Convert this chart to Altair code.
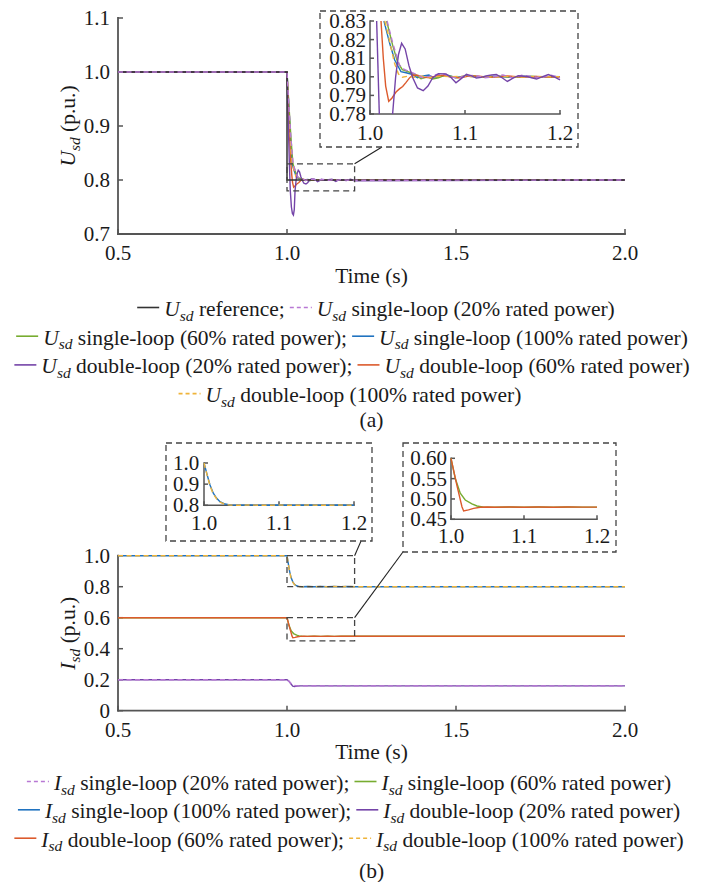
import altair as alt
import pandas as pd

# ---------------- panel (a): U_sd ----------------
A_REF_T = [0.5, 1.0, 1.0, 2.0]
A_REF_V = [1.0, 1.0, 0.8, 0.8]

A_S20_T = [0.5, 1.0, 1.006, 1.012, 1.018, 1.024, 1.0309, 1.036, 1.0414, 1.048, 1.055, 1.062, 1.07, 1.078,
           1.085, 1.092, 1.1, 1.11, 1.12, 1.13, 1.14, 1.15, 1.16, 1.17, 1.18, 1.19, 1.2, 2.0]
A_S20_V = [1.0, 1.0, 0.935, 0.874, 0.83, 0.818, 0.8064, 0.804, 0.8029, 0.8015, 0.7995, 0.8002, 0.8012, 0.8015,
           0.8, 0.7993, 0.8005, 0.8008, 0.7995, 0.8, 0.801, 0.7995, 0.8008, 0.8002, 0.7995, 0.801, 0.7995, 0.8]

A_S60_T = [0.5, 1.0, 1.006, 1.012, 1.0175, 1.0238, 1.029, 1.034, 1.0414, 1.0484, 1.0537, 1.061, 1.066, 1.072,
           1.078, 1.085, 1.092, 1.1, 1.11, 1.12, 1.13, 1.14, 1.15, 1.16, 1.17, 1.18, 1.19, 1.2, 2.0]
A_S60_V = [1.0, 1.0, 0.935, 0.875, 0.83, 0.817, 0.808, 0.8038, 0.8025, 0.801, 0.799, 0.8, 0.7988, 0.7995,
           0.8006, 0.8003, 0.7995, 0.8003, 0.8005, 0.7997, 0.8, 0.8003, 0.7998, 0.8, 0.8003, 0.7999, 0.8001, 0.8, 0.8]

A_S100_T = [0.5, 1.0, 1.006, 1.011, 1.0147, 1.0207, 1.026, 1.0326, 1.038, 1.043, 1.05, 1.056, 1.062, 1.068,
            1.075, 1.082, 1.09, 1.1, 1.11, 1.12, 1.13, 1.14, 1.15, 1.16, 1.17, 1.18, 1.19, 1.2, 2.0]
A_S100_V = [1.0, 1.0, 0.93, 0.87, 0.83, 0.818, 0.809, 0.8028, 0.8022, 0.8015, 0.7995, 0.8005, 0.801, 0.7992,
            0.8005, 0.8008, 0.7995, 0.8005, 0.8, 0.7998, 0.8003, 0.8, 0.7997, 0.8003, 0.8, 0.7998, 0.8002, 0.8, 0.8]

A_D20_T = [0.5, 1.0, 1.004, 1.007, 1.0098, 1.013, 1.016, 1.019, 1.0215, 1.0238, 1.027, 1.03, 1.0333, 1.037,
           1.041, 1.045, 1.05, 1.056, 1.061, 1.066, 1.072, 1.08, 1.0855, 1.0905, 1.096, 1.1015, 1.107, 1.112,
           1.117, 1.122, 1.128, 1.133, 1.139, 1.1446, 1.15, 1.156, 1.165, 1.17, 1.1754, 1.181, 1.1877, 1.194,
           1.2, 2.0]
A_D20_V = [1.0, 1.0, 0.9, 0.83, 0.78, 0.75, 0.738, 0.735, 0.745, 0.78, 0.8, 0.812, 0.818, 0.815,
           0.806, 0.7995, 0.794, 0.7925, 0.795, 0.7995, 0.8017, 0.8015, 0.7995, 0.7968, 0.799, 0.8013, 0.8005, 0.7993,
           0.7997, 0.8005, 0.801, 0.8013, 0.7995, 0.7975, 0.7992, 0.8006, 0.8002, 0.7995, 0.7988, 0.8, 0.8012, 0.8,
           0.7983, 0.8]

A_D60_T = [0.5, 1.0, 1.005, 1.0116, 1.014, 1.0165, 1.0197, 1.023, 1.0274, 1.031, 1.0344, 1.038, 1.0414, 1.045,
           1.05, 1.056, 1.063, 1.07, 1.078, 1.085, 1.095, 1.105, 1.115, 1.125, 1.135, 1.145, 1.16, 1.175, 1.19,
           1.2, 2.0]
A_D60_V = [1.0, 1.0, 0.91, 0.83, 0.81, 0.795, 0.7868, 0.7885, 0.7918, 0.7935, 0.7948, 0.797, 0.7993, 0.801,
           0.8008, 0.7998, 0.7995, 0.8005, 0.8008, 0.7998, 0.7995, 0.8005, 0.8003, 0.7997, 0.8, 0.8004, 0.7998,
           0.8002, 0.7999, 0.8, 0.8]

A_D100_T = [0.5, 1.0, 1.006, 1.011, 1.0155, 1.019, 1.022, 1.026, 1.03, 1.034, 1.04, 1.046, 1.055, 1.065,
            1.075, 1.085, 1.1, 1.12, 1.14, 1.16, 1.18, 1.2, 2.0]
A_D100_V = [1.0, 1.0, 0.92, 0.86, 0.83, 0.823, 0.816, 0.807, 0.8015, 0.7998, 0.8003, 0.7998, 0.8003, 0.7996,
            0.8004, 0.8, 0.8003, 0.7998, 0.8002, 0.7999, 0.8001, 0.8, 0.8]

# ---------------- panel (b): I_sd ----------------
B_S20_T = [0.5, 1.0, 1.008, 1.014, 1.02, 1.026, 1.035, 2.0]
B_S20_V = [0.2, 0.2, 0.185, 0.172, 0.164, 0.161, 0.16, 0.16]
B_D20_T = [0.5, 1.0, 1.006, 1.012, 1.017, 1.022, 1.03, 1.04, 2.0]
B_D20_V = [0.2, 0.2, 0.19, 0.172, 0.158, 0.156, 0.159, 0.16, 0.16]
B_S60_T = [0.5, 1.0, 1.0058, 1.0127, 1.0195, 1.0287, 1.0356, 1.045, 1.06, 1.08, 1.1, 1.12, 1.14, 1.16,
           1.18, 1.2, 2.0]
B_S60_V = [0.6, 0.6, 0.5508, 0.514, 0.4975, 0.4877, 0.4827, 0.48, 0.4797, 0.4802, 0.4798, 0.4801, 0.4798,
           0.4801, 0.4799, 0.48, 0.48]
B_D60_T = [0.5, 1.0, 1.008, 1.015, 1.0173, 1.024, 1.031, 1.04, 1.05, 1.06, 1.08, 1.1, 1.12, 1.14, 1.16,
           1.18, 1.2, 2.0]
B_D60_V = [0.6, 0.6, 0.534, 0.481, 0.4704, 0.473, 0.477, 0.4795, 0.4802, 0.4796, 0.4801, 0.4798, 0.4801,
           0.4798, 0.4801, 0.4799, 0.48, 0.48]
B_S100_T = [0.5, 1.0, 1.0036, 1.008, 1.0124, 1.0169, 1.0213, 1.028, 1.0347, 1.045, 1.06, 1.08, 1.1, 1.12,
            1.14, 1.16, 1.18, 1.2, 2.0]
B_S100_V = [1.0, 1.0, 0.952, 0.896, 0.857, 0.833, 0.817, 0.806, 0.802, 0.8, 0.8012, 0.8, 0.8012, 0.8,
            0.8012, 0.8, 0.8012, 0.8, 0.8]
B_D100_T = [0.5, 1.0, 1.004, 1.008, 1.012, 1.017, 1.022, 1.028, 1.035, 1.045, 1.06, 1.08, 1.1, 1.12,
            1.14, 1.16, 1.18, 1.2, 2.0]
B_D100_V = [1.0, 1.0, 0.945, 0.893, 0.856, 0.83, 0.814, 0.805, 0.801, 0.8, 0.8012, 0.8, 0.8012, 0.8,
            0.8012, 0.8, 0.8012, 0.8, 0.8]

# ---------------- ticks ----------------
A_XTICKS = [0.5, 1.0, 1.5, 2.0]
A_YTICKS = [0.7, 0.8, 0.9, 1.0, 1.1]
A_IN_XTICKS = [1.0, 1.1, 1.2]
A_IN_YTICKS = [0.78, 0.79, 0.80, 0.81, 0.82, 0.83]
B_XTICKS = [0.5, 1.0, 1.5, 2.0]
B_YTICKS = [0, 0.2, 0.4, 0.6, 0.8, 1.0]
B1_XTICKS = [1.0, 1.1, 1.2]
B1_YTICKS = [0.8, 0.9, 1.0]
B2_XTICKS = [1.0, 1.1, 1.2]
B2_YTICKS = [0.45, 0.5, 0.55, 0.6]

# ---------------- legend text ----------------
LEG_A = [
    [("ref", "reference;"), ("s20", "single-loop (20% rated power)")],
    [("s60", "single-loop (60% rated power);"), ("s100", "single-loop (100% rated power)")],
    [("d20", "double-loop (20% rated power);"), ("d60", "double-loop (60% rated power)")],
    [("d100", "double-loop (100% rated power)")],
]
LEG_B = [
    [("s20", "single-loop (20% rated power);"), ("s60", "single-loop (60% rated power)")],
    [("s100", "single-loop (100% rated power);"), ("d20", "double-loop (20% rated power)")],
    [("d60", "double-loop (60% rated power);"), ("d100", "double-loop (100% rated power)")],
]

# ---------------- style / layout ----------------
FONT = "Liberation Serif"
FS = 21.5
TICK_FS = 21
SUB_FS = 15.5
SUB_DY = 4.5
AX = "#555555"
TXT = "#1a1a1a"
FRAME = "#444444"
COL = {"ref": "#333333", "s20": "#B878D4", "s60": "#77AC30", "s100": "#2073C0",
       "d20": "#7444A8", "d60": "#DC5A2C", "d100": "#EFB43A"}
DASHED = {"s20", "d100"}

W, HA, HB = 507, 216, 155
SPACING = 321.7
LEG_A_CX = [258, 234, 234, 232]
LEG_A_BASE = [298, 326.7, 355.4, 384.1]
LEG_B_CX = [231, 231, 231]
LEG_B_BASE = [234.3, 262.6, 291.0]

ROMAN = {' ': 250, '(': 333, ')': 333, '%': 833, '-': 333, '.': 250, ';': 278,
         'a': 444, 'b': 500, 'c': 444, 'd': 500, 'e': 444, 'f': 333, 'g': 500, 'i': 278,
         'l': 278, 'n': 500, 'o': 500, 'p': 500, 'r': 333, 's': 389, 't': 278, 'u': 500,
         'w': 722, 'T': 611, 'm': 778}
for _d in "0123456789":
    ROMAN[_d] = 500
ITAL = {'U': 722, 'I': 333, 's': 389, 'd': 500}


def tw(s, size, table):
    return sum(table[c] for c in s) / 1000.0 * size


def frame(t, v):
    return pd.DataFrame({"t": t, "v": v, "i": list(range(len(t)))})


def inset_frame(t, v, xd, yd):
    rows, seg, prev = [], 0, False
    for i, (tt, vv) in enumerate(zip(t, v)):
        inside = xd[0] - 1e-9 <= tt <= xd[1] + 1e-9 and yd[0] - 1e-9 <= vv <= yd[1] + 1e-9
        if inside:
            if not prev:
                seg += 1
            rows.append({"t": tt, "v": vv, "i": i, "seg": seg})
        prev = inside
    return pd.DataFrame(rows)


def lines(series, xs, ys, detail=False):
    out = []
    for key, df in series:
        kw = dict(color=COL[key], strokeWidth=1.5 if key == "ref" else 1.4)
        if key in DASHED:
            kw["strokeDash"] = [5, 3.5]
        enc = dict(x=alt.X("t:Q", scale=xs, axis=None), y=alt.Y("v:Q", scale=ys, axis=None), order="i:Q")
        if detail:
            enc["detail"] = "seg:N"
        out.append(alt.Chart(df).mark_line(**kw).encode(**enc))
    return out


def axes(xs, ys, xd, yd, xt, xl, yt, yl, x_px, y_px, tick, xlab_dy, ylab_dx, dw):
    dom = pd.DataFrame({"x1": [xd[0], xd[0]], "x2": [xd[1], xd[0]],
                        "y1": [yd[0], yd[0]], "y2": [yd[0], yd[1]]})
    out = [alt.Chart(dom).mark_rule(color=AX, strokeWidth=dw, strokeCap="square").encode(
        x=alt.X("x1:Q", scale=xs, axis=None), x2="x2:Q",
        y=alt.Y("y1:Q", scale=ys, axis=None), y2="y2:Q")]
    out.append(alt.Chart(pd.DataFrame({"p": xt})).mark_rule(color=AX, strokeWidth=1.5).encode(
        x=alt.X("p:Q", scale=xs, axis=None), y=alt.value(y_px), y2=alt.value(y_px - tick)))
    out.append(alt.Chart(pd.DataFrame({"p": yt})).mark_rule(color=AX, strokeWidth=1.5).encode(
        y=alt.Y("p:Q", scale=ys, axis=None), x=alt.value(x_px), x2=alt.value(x_px + tick)))
    out.append(alt.Chart(pd.DataFrame({"p": xt, "s": xl})).mark_text(
        font=FONT, fontSize=TICK_FS, align="center", baseline="alphabetic", color=TXT).encode(
        x=alt.X("p:Q", scale=xs, axis=None), y=alt.value(y_px + xlab_dy), text="s:N"))
    out.append(alt.Chart(pd.DataFrame({"p": yt, "s": yl})).mark_text(
        font=FONT, fontSize=TICK_FS, align="right", baseline="alphabetic", dy=7, color=TXT).encode(
        y=alt.Y("p:Q", scale=ys, axis=None), x=alt.value(x_px - ylab_dx), text="s:N"))
    return out


def rect(x1, x2, y1, y2, xs, ys):
    df = pd.DataFrame({"x1": [x1], "x2": [x2], "y1": [y1], "y2": [y2]})
    return alt.Chart(df).mark_rect(fillOpacity=0, stroke=FRAME, strokeWidth=1.3, strokeDash=[6, 4]).encode(
        x=alt.X("x1:Q", scale=xs, axis=None), x2="x2:Q",
        y=alt.Y("y1:Q", scale=ys, axis=None), y2="y2:Q")


def connector(x1, y1, x2, y2, xs, ys):
    df = pd.DataFrame({"x1": [x1], "x2": [x2], "y1": [y1], "y2": [y2]})
    return alt.Chart(df).mark_rule(color="#222222", strokeWidth=1.1).encode(
        x=alt.X("x1:Q", scale=xs, axis=None), x2="x2:Q",
        y=alt.Y("y1:Q", scale=ys, axis=None), y2="y2:Q")


def texts(rows, italic=False, align="left"):
    df = pd.DataFrame(rows)
    return alt.Chart(df).mark_text(font=FONT, align=align, baseline="alphabetic", color=TXT,
                                   fontStyle="italic" if italic else "normal").encode(
        x=alt.X("px:Q", scale=None, axis=None), y=alt.Y("py:Q", scale=None, axis=None),
        text="text:N", size=alt.Size("fs:Q", scale=None, legend=None),
        angle=alt.Angle("ang:Q", scale=None, legend=None))


SAMPLE, GAP, SEP = 22, 5, 5


def legend(lines_spec, baselines, centers, sym, roman, ital, samples):
    wsym, wsub, wsp = tw(sym, FS, ITAL), tw("sd", SUB_FS, ITAL), tw(" ", FS, ROMAN)
    for entries, by, cx in zip(lines_spec, baselines, centers):
        widths = [SAMPLE + GAP + wsym + wsub + wsp + tw(txt, FS, ROMAN) for _, txt in entries]
        total = sum(widths) + SEP * (len(entries) - 1)
        x = cx - total / 2
        for (key, txt), w in zip(entries, widths):
            samples.append({"x1": x, "x2": x + SAMPLE, "y": by - 8.5, "col": COL[key], "dashed": key in DASHED})
            xs = x + SAMPLE + GAP
            ital.append({"px": xs, "py": by, "text": sym, "fs": FS, "ang": 0})
            ital.append({"px": xs + wsym, "py": by + SUB_DY, "text": "sd", "fs": SUB_FS, "ang": 0})
            roman.append({"px": xs + wsym + wsub + wsp, "py": by, "text": txt, "fs": FS, "ang": 0})
            x += w + SEP


def ytitle(sym, height, roman, ital):
    wsym, wsub, wsp = tw(sym, FS, ITAL), tw("sd", SUB_FS, ITAL), tw(" ", FS, ROMAN)
    total = wsym + wsub + wsp + tw("(p.u.)", FS, ROMAN)
    y0 = height / 2 + total / 2
    xb = -43
    ital.append({"px": xb, "py": y0, "text": sym, "fs": FS, "ang": 270})
    ital.append({"px": xb + SUB_DY, "py": y0 - wsym, "text": "sd", "fs": SUB_FS, "ang": 270})
    roman.append({"px": xb, "py": y0 - wsym - wsub - wsp, "text": "(p.u.)", "fs": FS, "ang": 270})


def sample_layers(samples):
    out = []
    for dashed in (False, True):
        rows = [s for s in samples if s["dashed"] == dashed]
        if not rows:
            continue
        kw = dict(strokeWidth=1.6)
        if dashed:
            kw["strokeDash"] = [4, 3]
        out.append(alt.Chart(pd.DataFrame(rows)).mark_rule(**kw).encode(
            x=alt.X("x1:Q", scale=None, axis=None), x2="x2:Q",
            y=alt.Y("y:Q", scale=None, axis=None),
            color=alt.Color("col:N", scale=None, legend=None)))
    return out


def text_layers(roman, ital, center):
    return [texts(roman), texts(ital, italic=True), texts(center, align="center")]


def sc(domain, rng=None):
    if rng is None:
        return alt.Scale(domain=domain, nice=False, zero=False)
    return alt.Scale(domain=domain, range=rng, nice=False, zero=False)


def f1(v):
    return f"{v:.1f}"


def f2(v):
    return f"{v:.2f}"


# ================= panel (a) =================
A_XD, A_YD = [0.5, 2.0], [0.7, 1.1]
SA_X, SA_Y = sc(A_XD), sc(A_YD)
AI_XD, AI_YD = [1.0, 1.2], [0.78, 0.83]
SAI_X, SAI_Y = sc(AI_XD, [252, 442]), sc(AI_YD, [96, 3])

a_series = {"ref": (A_REF_T, A_REF_V), "s20": (A_S20_T, A_S20_V), "s60": (A_S60_T, A_S60_V),
            "s100": (A_S100_T, A_S100_V), "d20": (A_D20_T, A_D20_V), "d60": (A_D60_T, A_D60_V),
            "d100": (A_D100_T, A_D100_V)}
a_main_order = ["s100", "s60", "d60", "d100", "d20", "ref", "s20"]
a_inset_order = ["s100", "s60", "d60", "d100", "s20", "d20"]

ra, ia, ca, sa = [], [], [], []
legend(LEG_A, LEG_A_BASE, LEG_A_CX, "U", ra, ia, sa)
ytitle("U", HA, ra, ia)
ca.append({"px": W / 2, "py": HA + 48.5, "text": "Time (s)", "fs": FS, "ang": 0})
ca.append({"px": W / 2, "py": 409, "text": "(a)", "fs": FS, "ang": 0})

main_a = alt.layer(
    *axes(SA_X, SA_Y, A_XD, A_YD, A_XTICKS, [f1(v) for v in A_XTICKS], A_YTICKS,
          [f1(v) for v in A_YTICKS], 0, HA, 5, 26, 8, 1.8),
    *lines([(k, frame(*a_series[k])) for k in a_main_order], SA_X, SA_Y),
    rect(1.0, 1.2, 0.78, 0.83, SA_X, SA_Y),
    connector(1.2, 0.83, 1.281, 0.861, SA_X, SA_Y),
    *text_layers(ra, ia, ca), *sample_layers(sa),
)
inset_a = alt.layer(
    *axes(SAI_X, SAI_Y, AI_XD, AI_YD, A_IN_XTICKS, [f1(v) for v in A_IN_XTICKS], A_IN_YTICKS,
          [f2(v) for v in A_IN_YTICKS], 252, 96, 4, 26, 4, 1.5),
    *lines([(k, inset_frame(*a_series[k], AI_XD, AI_YD)) for k in a_inset_order], SAI_X, SAI_Y, detail=True),
    rect(0.94737, 1.21895, 0.76226, 0.83538, SAI_X, SAI_Y),
)
panel_a = alt.layer(main_a, inset_a).resolve_scale(x="independent", y="independent").properties(
    width=W, height=HA)

# ================= panel (b) =================
B_XD, B_YD = [0.5, 2.0], [0.0, 1.0]
SB_X, SB_Y = sc(B_XD), sc(B_YD)
B1_XD, B1_YD = [1.0, 1.2], [0.8, 1.0]
B2_XD, B2_YD = [1.0, 1.2], [0.45, 0.6]
SB1_X, SB1_Y = sc(B1_XD, [86, 236]), sc(B1_YD, [-50.4, -92.7])
SB2_X, SB2_Y = sc(B2_XD, [333, 479]), sc(B2_YD, [-36.4, -97.4])

b_series = {"s20": (B_S20_T, B_S20_V), "s60": (B_S60_T, B_S60_V), "s100": (B_S100_T, B_S100_V),
            "d20": (B_D20_T, B_D20_V), "d60": (B_D60_T, B_D60_V), "d100": (B_D100_T, B_D100_V)}
b_main_order = ["s100", "d100", "s60", "d60", "d20", "s20"]

rb, ib, cb, sbm = [], [], [], []
legend(LEG_B, LEG_B_BASE, LEG_B_CX, "I", rb, ib, sbm)
ytitle("I", HB, rb, ib)
cb.append({"px": W / 2, "py": HB + 48.5, "text": "Time (s)", "fs": FS, "ang": 0})
cb.append({"px": W / 2, "py": 322.5, "text": "(b)", "fs": FS, "ang": 0})

main_b = alt.layer(
    *axes(SB_X, SB_Y, B_XD, B_YD, B_XTICKS, [f1(v) for v in B_XTICKS], B_YTICKS,
          ["0" if v == 0 else f1(v) for v in B_YTICKS], 0, HB, 5, 26, 8, 1.8),
    *lines([(k, frame(*b_series[k])) for k in b_main_order], SB_X, SB_Y),
    rect(1.0, 1.2, 0.8, 1.0, SB_X, SB_Y),
    rect(1.0, 1.2, 0.45, 0.6, SB_X, SB_Y),
    connector(1.2, 1.0, 1.219, 1.0948, SB_X, SB_Y),
    connector(1.2, 0.6, 1.343, 1.024, SB_X, SB_Y),
    *text_layers(rb, ib, cb), *sample_layers(sbm),
)
inset_b1 = alt.layer(
    *axes(SB1_X, SB1_Y, B1_XD, B1_YD, B1_XTICKS, [f1(v) for v in B1_XTICKS], B1_YTICKS,
          [f1(v) for v in B1_YTICKS], 86, -50.4, 4, 24.7, 4.7, 1.5),
    *lines([(k, inset_frame(*b_series[k], B1_XD, B1_YD)) for k in ["s100", "d100"]], SB1_X, SB1_Y, detail=True),
    rect(0.94933, 1.224, 0.6312, 1.09456, SB1_X, SB1_Y),
)
inset_b2 = alt.layer(
    *axes(SB2_X, SB2_Y, B2_XD, B2_YD, B2_XTICKS, [f1(v) for v in B2_XTICKS], B2_YTICKS,
          [f2(v) for v in B2_YTICKS], 333, -36.4, 4, 24, 4, 1.5),
    *lines([(k, inset_frame(*b_series[k], B2_XD, B2_YD)) for k in ["s60", "d60"]], SB2_X, SB2_Y, detail=True),
    rect(0.93425, 1.22603, 0.3696, 0.63762, SB2_X, SB2_Y),
)
panel_b = alt.layer(main_b, inset_b1, inset_b2).resolve_scale(x="independent", y="independent").properties(
    width=W, height=HB)

chart = alt.vconcat(panel_a, panel_b, spacing=SPACING, bounds="flush").configure_view(
    strokeWidth=0).properties(padding={"left": 5, "right": 5, "top": 0, "bottom": 0})

chart.save("out.html", embed_options={"renderer": "svg", "actions": False})
